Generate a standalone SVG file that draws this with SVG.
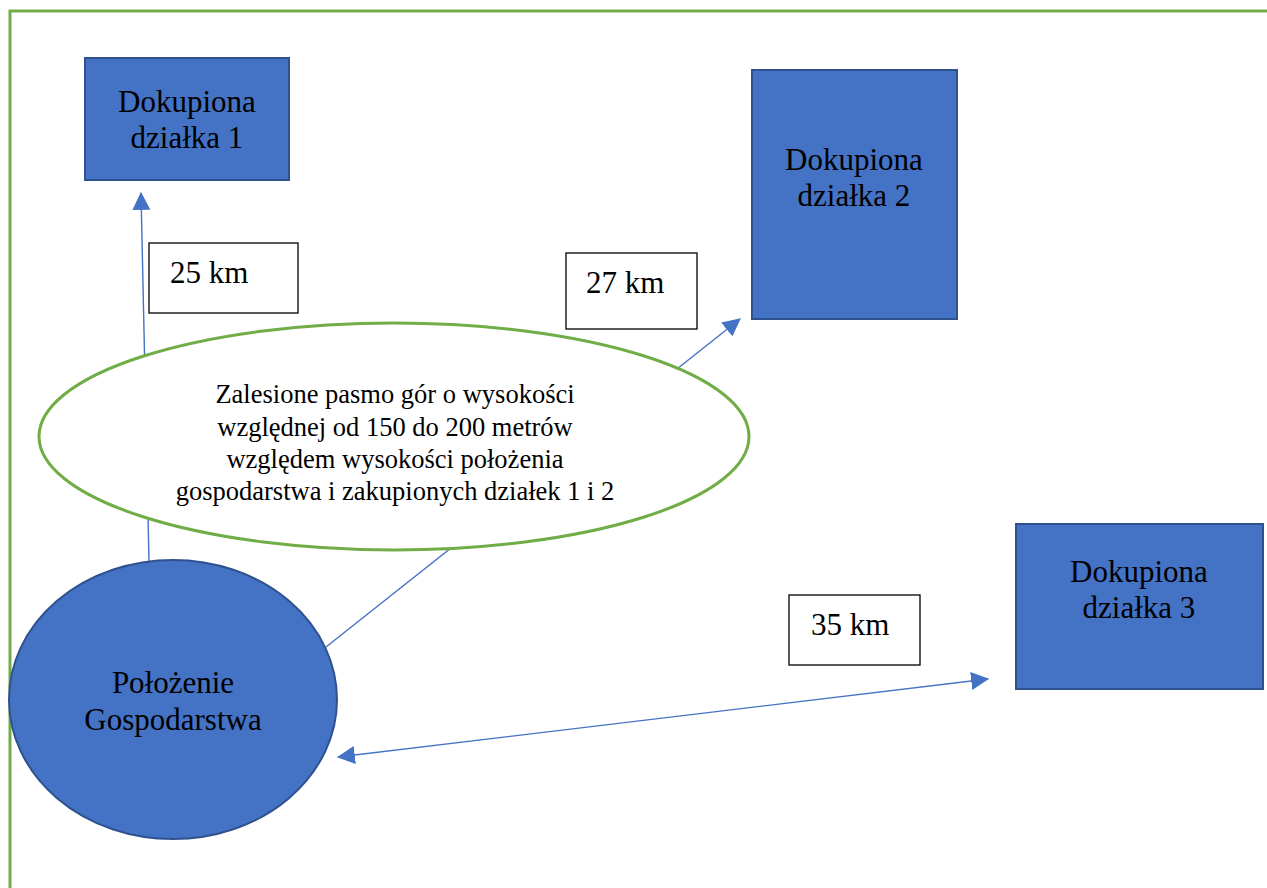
<svg xmlns="http://www.w3.org/2000/svg" width="1267" height="888" viewBox="0 0 1267 888">
<style>
.frame{fill:none;stroke:#70AD47;stroke-width:3}
.box{fill:#4472C4;stroke:#2F528F;stroke-width:2}
.lbl{fill:#fff;stroke:#000;stroke-width:1.3}
.conn{fill:none;stroke:#4472C4;stroke-width:1.4}
.t{font-family:"Liberation Serif","Times New Roman",serif;fill:#000}
.big{font-size:31px;text-anchor:middle}
.km{font-size:31px}
.mid{font-size:26.5px;text-anchor:middle}
</style>
<defs>
<marker id="ah" markerUnits="userSpaceOnUse" markerWidth="18" markerHeight="18" viewBox="0 0 16 16" refX="15" refY="8" orient="auto-start-reverse">
<path d="M0,0 L16,8 L0,16 Z" fill="#4472C4"/>
</marker>
</defs>
<rect class="frame" x="10" y="11" width="1300" height="900"/>
<g id="connectors">
<line class="conn" x1="149" y1="561" x2="141" y2="193" marker-end="url(#ah)"/>
<line class="conn" x1="326" y1="647" x2="740" y2="319" marker-end="url(#ah)"/>
<line class="conn" x1="338" y1="757" x2="988" y2="679" marker-start="url(#ah)" marker-end="url(#ah)"/>
</g>
<g id="dzialka1">
<rect class="box" x="85" y="58" width="204" height="122"/>
<text class="t big" x="187" y="112">Dokupiona</text>
<text class="t big" x="187" y="148">działka 1</text>
</g>
<g id="dzialka2">
<rect class="box" x="752" y="70" width="205" height="249"/>
<text class="t big" x="854" y="170">Dokupiona</text>
<text class="t big" x="854" y="206">działka 2</text>
</g>
<g id="dzialka3">
<rect class="box" x="1016" y="524" width="247" height="165"/>
<text class="t big" x="1139" y="582">Dokupiona</text>
<text class="t big" x="1139" y="618">działka 3</text>
</g>
<g id="km25">
<rect class="lbl" x="149" y="243" width="149" height="70"/>
<text class="t km" x="170" y="283">25 km</text>
</g>
<g id="km27">
<rect class="lbl" x="566" y="253" width="131" height="76"/>
<text class="t km" x="586" y="293">27 km</text>
</g>
<g id="km35">
<rect class="lbl" x="789" y="595" width="131" height="70"/>
<text class="t km" x="811" y="635">35 km</text>
</g>
<g id="gory">
<ellipse cx="394" cy="436.5" rx="355" ry="113.5" fill="#fff" stroke="#70AD47" stroke-width="3"/>
<text class="t mid" x="395" y="403">Zalesione pasmo gór o wysokości</text>
<text class="t mid" x="395" y="436">względnej od 150 do 200 metrów</text>
<text class="t mid" x="395" y="468">względem wysokości położenia</text>
<text class="t mid" x="395" y="500">gospodarstwa i zakupionych działek 1 i 2</text>
</g>
<g id="gospodarstwo">
<ellipse class="box" cx="173" cy="699.5" rx="164" ry="139.5"/>
<text class="t big" x="173" y="693">Położenie</text>
<text class="t big" x="173" y="730">Gospodarstwa</text>
</g>
</svg>
